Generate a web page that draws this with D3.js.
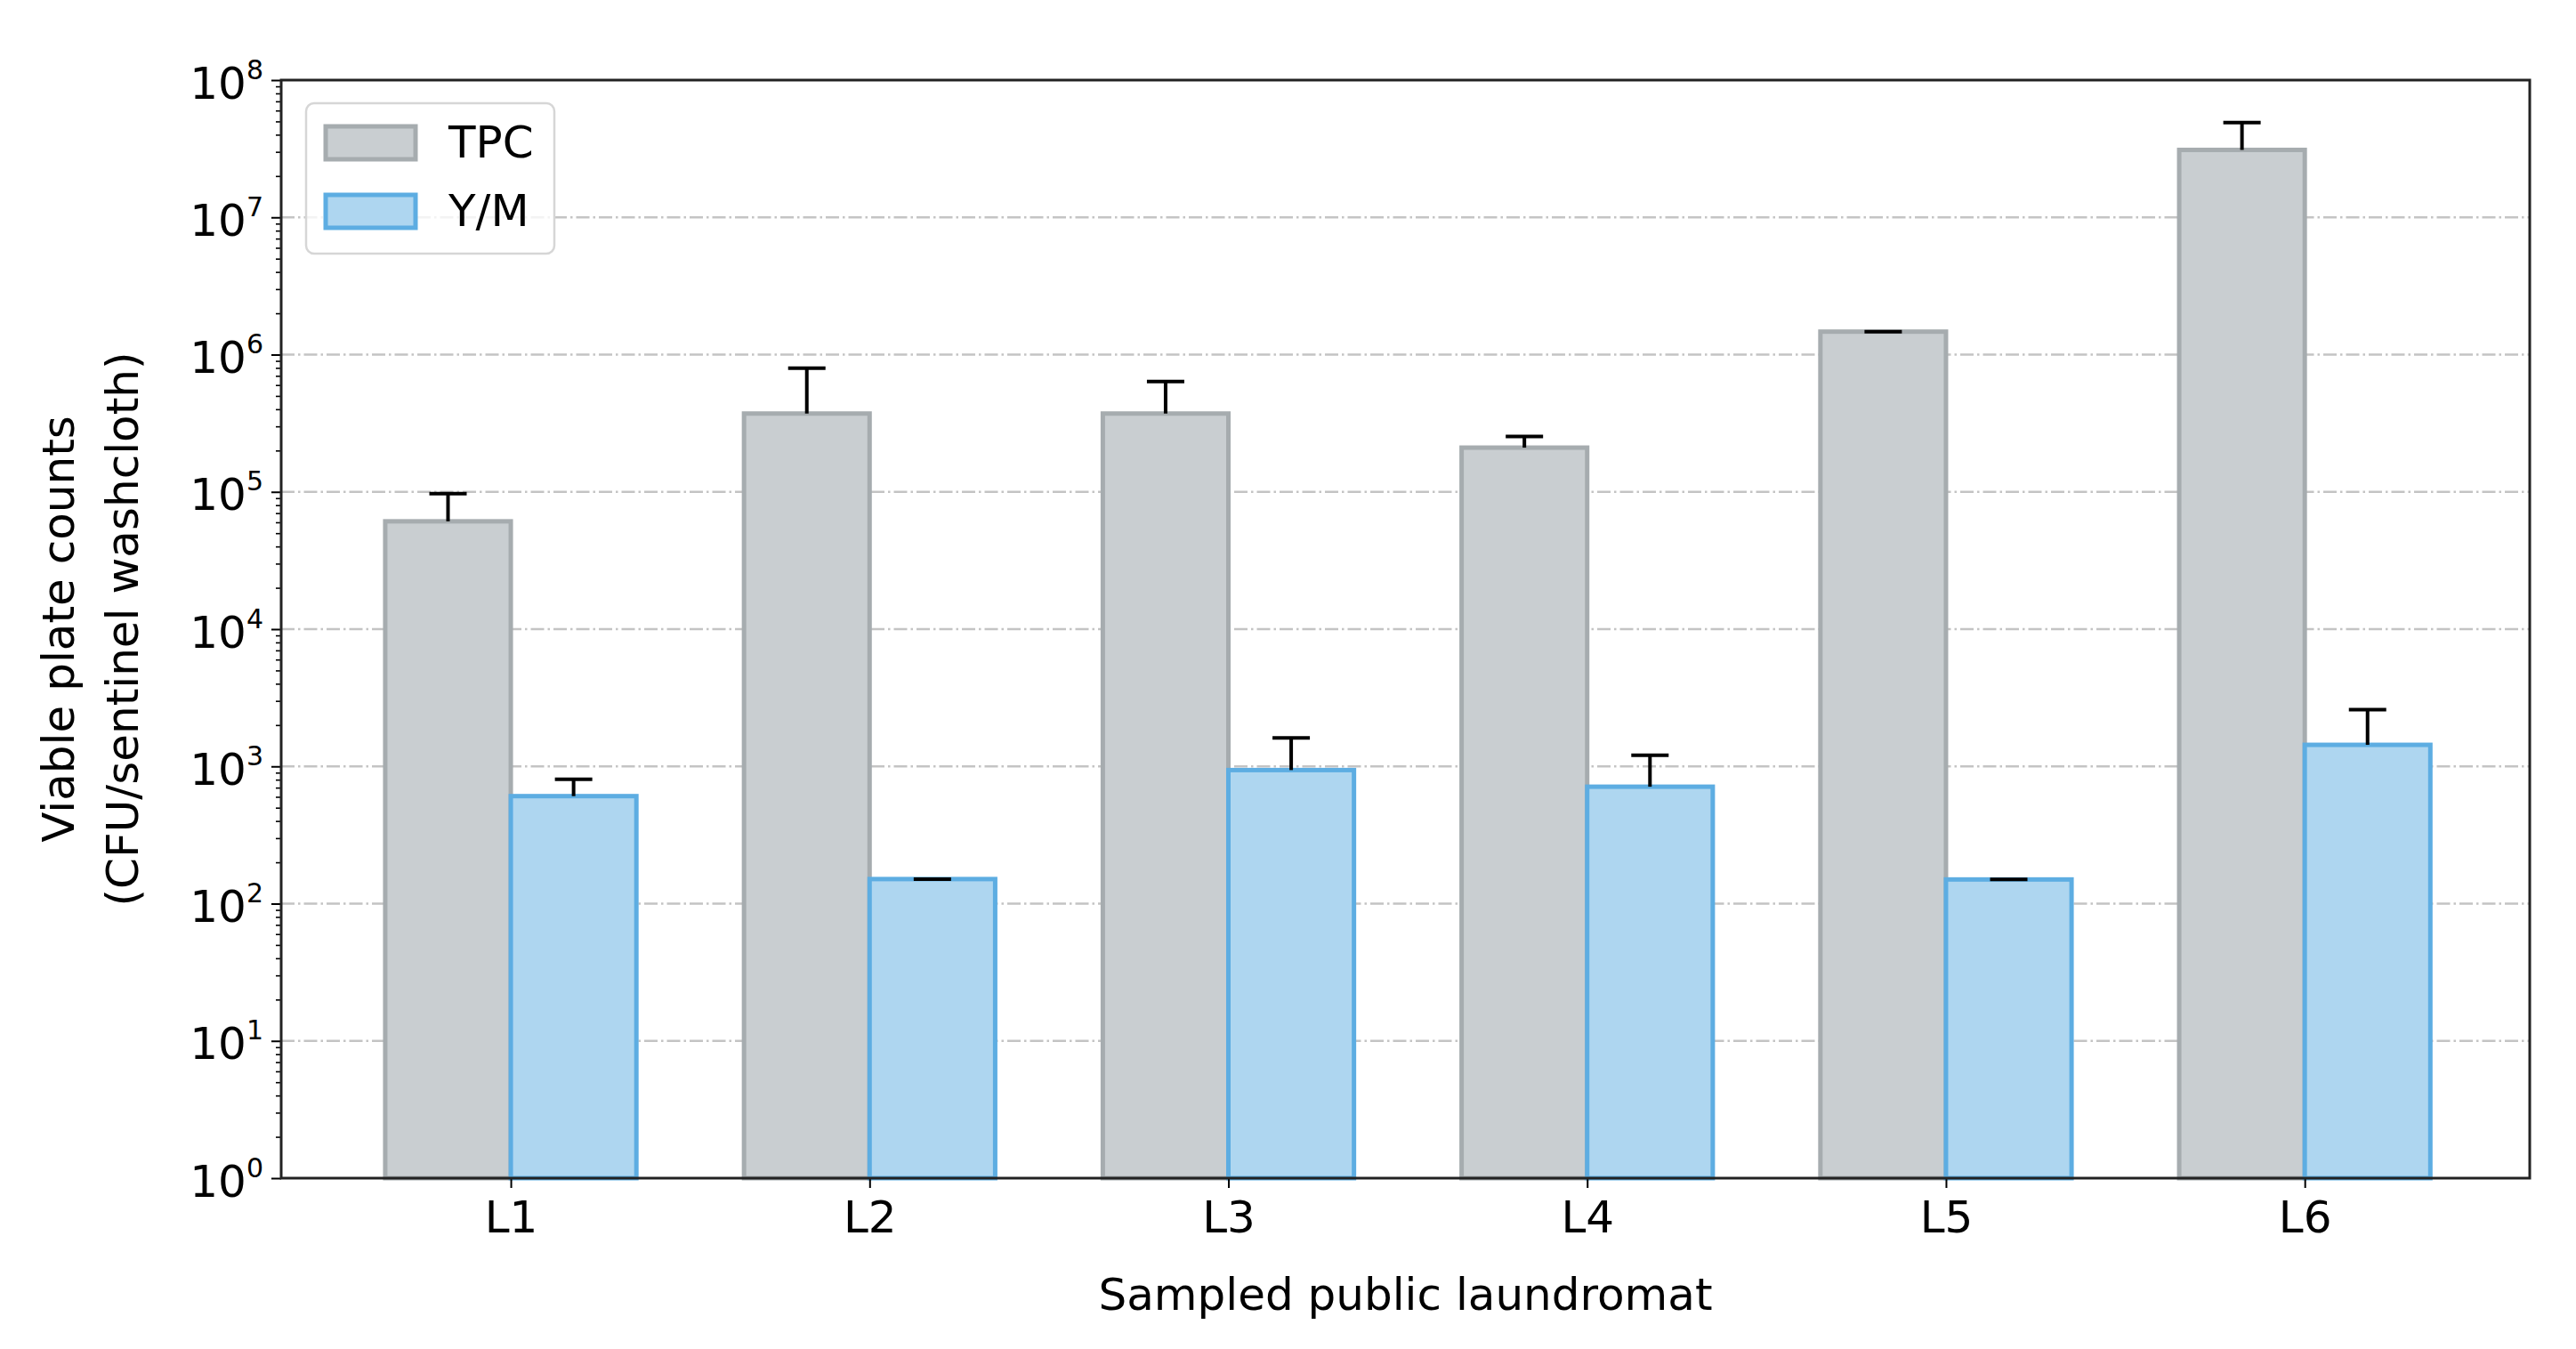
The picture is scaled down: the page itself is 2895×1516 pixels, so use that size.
<!DOCTYPE html>
<html>
<head>
  <script src="https://cdnjs.cloudflare.com/ajax/libs/d3/7.8.5/d3.min.js"></script>
  <style>
    body { margin: 0; background: #fff; }
    text { font-family: "DejaVu Sans", sans-serif; fill: #000; }
  </style>
</head>
<body>
  <div id="chart"></div>

  <script>
    // data
    var sites = ["L1", "L2", "L3", "L4", "L5", "L6"];
    var tpc = [6.1e4, 3.72e5, 3.72e5, 2.1e5, 1.47e6, 3.1e7];
    var tpcErr = [3.6e4, 4.24e5, 2.65e5, 4.3e4, 0, 1.8e7];
    var ym = [607, 151, 940, 711, 150, 1435];
    var ymErr = [198, 0, 670, 492, 0, 1155];
    var yTicks = [1, 1e1, 1e2, 1e3, 1e4, 1e5, 1e6, 1e7, 1e8];

    var series = [
      { name: "TPC", values: tpc, err: tpcErr, offset: -0.35, fill: "#c9ced1", stroke: "#a6acaf" },
      { name: "Y/M", values: ym, err: ymErr, offset: 0, fill: "#aed6f0", stroke: "#5dade2" }
    ];

    var W = 2895, H = 1516;
    var margin = { top: 90, right: 52, bottom: 192, left: 316 };
    var width = W - margin.left - margin.right;
    var height = H - margin.top - margin.bottom;
    var barW = 0.35;

    var svg = d3.select("#chart")
      .append("svg")
      .attr("width", W)
      .attr("height", H);

    svg.append("rect").attr("width", W).attr("height", H).attr("fill", "#fff");

    var g = svg.append("g")
      .attr("transform", "translate(" + margin.left + "," + margin.top + ")");

    var x = d3.scaleLinear().domain([-0.640, sites.length - 1 + 0.627]).range([0, width]);
    var y = d3.scaleLog().domain([1, 1e8]).range([height, 0]);

    // grid lines (major decades)
    g.append("g")
      .selectAll("line")
      .data(yTicks.slice(1, -1))
      .enter().append("line")
      .attr("x1", 0)
      .attr("x2", width)
      .attr("y1", d => y(d))
      .attr("y2", d => y(d))
      .attr("stroke", "#c4c4c4")
      .attr("stroke-width", 2.5)
      .attr("stroke-dasharray", "15,4,2.5,4");

    // bars
    series.forEach(function(s) {
      g.append("g")
        .selectAll("rect")
        .data(s.values)
        .enter().append("rect")
        .attr("x", (d, i) => x(i + s.offset))
        .attr("y", d => y(d))
        .attr("width", x(barW) - x(0))
        .attr("height", d => y(1) - y(d))
        .attr("fill", s.fill)
        .attr("stroke", s.stroke)
        .attr("stroke-width", 5);
    });

    // error bars (upper only)
    series.forEach(function(s) {
      var eb = g.append("g")
        .selectAll("g")
        .data(s.values)
        .enter().append("g");
      eb.append("line")
        .attr("x1", (d, i) => x(i + s.offset + barW / 2))
        .attr("x2", (d, i) => x(i + s.offset + barW / 2))
        .attr("y1", d => y(d))
        .attr("y2", (d, i) => y(d + s.err[i]))
        .attr("stroke", "#000")
        .attr("stroke-width", 4);
      eb.append("line")
        .attr("x1", (d, i) => x(i + s.offset + barW / 2) - 21)
        .attr("x2", (d, i) => x(i + s.offset + barW / 2) + 21)
        .attr("y1", (d, i) => y(d + s.err[i]))
        .attr("y2", (d, i) => y(d + s.err[i]))
        .attr("stroke", "#000")
        .attr("stroke-width", 4);
    });

    // x axis
    var xAxis = g.append("g")
      .attr("transform", "translate(0," + height + ")")
      .call(d3.axisBottom(x)
        .tickValues(d3.range(sites.length))
        .tickFormat(i => sites[i])
        .tickSize(11));
    xAxis.select(".domain").remove();
    xAxis.selectAll(".tick line").attr("stroke", "#000").attr("stroke-width", 2);
    xAxis.selectAll(".tick text")
      .attr("y", 61)
      .attr("dy", 0)
      .style("font-size", "50px")
      .style("font-family", "DejaVu Sans");

    // y axis with minor ticks
    var minor = [];
    yTicks.slice(0, -1).forEach(function(t) {
      for (var k = 2; k <= 9; k++) minor.push(t * k);
    });
    var yMinor = g.append("g")
      .call(d3.axisLeft(y).tickValues(minor).tickFormat("").tickSize(6));
    yMinor.select(".domain").remove();
    yMinor.selectAll(".tick line").attr("stroke", "#000").attr("stroke-width", 1.6);

    var yAxis = g.append("g")
      .call(d3.axisLeft(y).tickValues(yTicks).tickSize(11).tickPadding(9));
    yAxis.select(".domain").remove();
    yAxis.selectAll(".tick line").attr("stroke", "#000").attr("stroke-width", 2);
    yAxis.selectAll(".tick text")
      .attr("dy", 20)
      .style("font-size", "50px")
      .style("font-family", "DejaVu Sans")
      .each(function(d) {
        var t = d3.select(this).text("");
        t.append("tspan").text("10");
        t.append("tspan")
          .attr("dy", -22)
          .style("font-size", "30px")
          .text(Math.round(Math.log10(d)));
      });

    // frame
    g.append("rect")
      .attr("width", width)
      .attr("height", height)
      .attr("fill", "none")
      .attr("stroke", "#222")
      .attr("stroke-width", 3);

    // axis titles
    svg.append("text")
      .attr("x", margin.left + width / 2)
      .attr("y", 1472)
      .attr("text-anchor", "middle")
      .style("font-size", "50px")
      .text("Sampled public laundromat");

    var yMid = margin.top + height / 2;
    svg.append("text")
      .attr("transform", "translate(83," + yMid + ") rotate(-90)")
      .attr("text-anchor", "middle")
      .style("font-size", "50px")
      .text("Viable plate counts");
    svg.append("text")
      .attr("transform", "translate(155," + yMid + ") rotate(-90)")
      .attr("text-anchor", "middle")
      .style("font-size", "50px")
      .text("(CFU/sentinel washcloth)");

    // legend
    var legend = svg.append("g").attr("transform", "translate(344,116)");
    legend.append("rect")
      .attr("width", 279)
      .attr("height", 169)
      .attr("rx", 9)
      .attr("fill", "#fff")
      .attr("fill-opacity", 0.8)
      .attr("stroke", "#d6d6d6")
      .attr("stroke-width", 2.5);
    var item = legend.selectAll(".item")
      .data(series)
      .enter().append("g")
      .attr("class", "item")
      .attr("transform", (d, i) => "translate(0," + (i * 77) + ")");
    item.append("rect")
      .attr("x", 22)
      .attr("y", 26)
      .attr("width", 101)
      .attr("height", 37)
      .attr("fill", d => d.fill)
      .attr("stroke", d => d.stroke)
      .attr("stroke-width", 5);
    item.append("text")
      .attr("x", 160)
      .attr("y", 61)
      .style("font-size", "50px")
      .text(d => d.name);
  </script>
</body>
</html>
